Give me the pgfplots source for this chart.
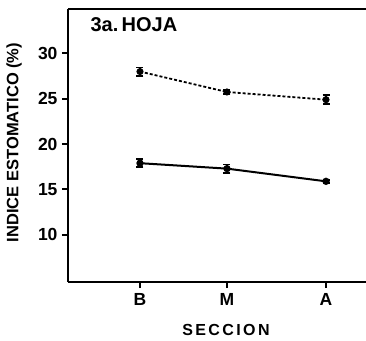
\documentclass[border=0pt]{standalone}
\usepackage{fontspec}
\setmainfont{Liberation Sans}
\usepackage{pgfplots}
\pgfplotsset{compat=1.18}
\usetikzlibrary{calc}

\begin{document}
\begin{tikzpicture}[x=1pt,y=1pt]
\useasboundingbox (-68,-58) rectangle (298,282);
\begin{axis}[
  at={(0,0)}, anchor=south west,
  scale only axis, width=298pt, height=273pt,
  xmin=-0.774, xmax=2.43,
  ymin=4.8, ymax=34.9,
  axis lines=left,
  axis line style={-, line width=2pt},
  tick align=outside,
  major tick length=6pt,
  every tick/.style={line width=2pt, black},
  xtick={0,0.935,2},
  xticklabels={B,M,A},
  ytick={10,15,20,25,30},
  /pgf/number format/assume math mode=true,
  tick label style={font=\fontsize{17.5}{17.5}\selectfont\bfseries},
  yticklabel style={xshift=-1pt},
  xticklabel style={yshift=-2pt},
  clip=false,
]
% upper frame line
\draw[line width=2pt] (rel axis cs:0,1) -- (rel axis cs:1,1);

% dashed series
\addplot[black, line width=1.8pt, dash pattern=on 3pt off 2pt,
  mark=*, mark size=2.6pt, mark options={solid},
  error bars/.cd, y dir=both, y explicit,
  error bar style={line width=1.8pt, solid}, error mark options={rotate=90, mark size=3.5pt, line width=1.8pt}]
  coordinates {
    (0,28.0) +- (0,0.45)
    (0.935,25.75) +- (0,0.2)
    (2,24.9) +- (0,0.5)
  };

% solid series
\addplot[black, line width=2pt,
  mark=*, mark size=2.6pt,
  error bars/.cd, y dir=both, y explicit,
  error bar style={line width=1.8pt}, error mark options={rotate=90, mark size=3.5pt, line width=1.8pt}]
  coordinates {
    (0,17.9) +- (0,0.45)
    (0.935,17.3) +- (0,0.45)
    (2,15.9) +- (0,0.15)
  };

\node[anchor=west, font=\fontsize{20}{20}\selectfont\bfseries] at ($(rel axis cs:0,1)+(19pt,-16pt)$) {3a.\,HOJA};
\end{axis}
\node[rotate=90, font=\fontsize{16.5}{16.5}\selectfont\bfseries] at (-54,139.5) {INDICE ESTOMATICO (\%)};
\node[font=\fontsize{16}{16}\selectfont\bfseries\addfontfeature{LetterSpace=15}] at (158,-48) {SECCION};
\end{tikzpicture}
\end{document}
